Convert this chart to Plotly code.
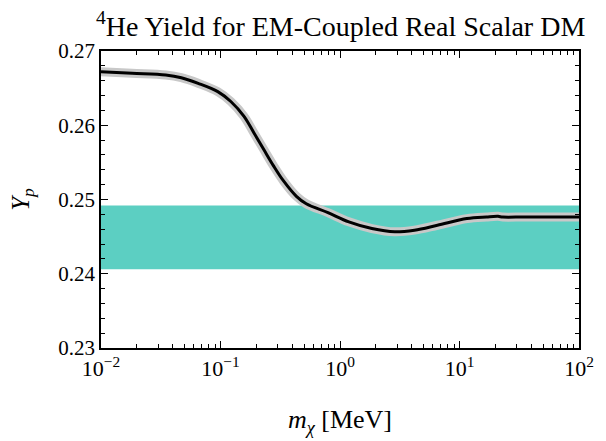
import plotly.graph_objects as go

# Data
mass_mev = [0.01, 0.0182, 0.0348, 0.047, 0.065, 0.0949, 0.122, 0.1573, 0.1901,
            0.2296, 0.2778, 0.3357, 0.4317, 0.522, 0.793, 1.186, 1.848,
            2.873, 4.198, 6.53, 11.53, 16.83, 21.0, 23.0, 35.9, 100.0]
yp = [0.2672, 0.26699, 0.26676, 0.2664, 0.26565, 0.26453, 0.2632, 0.2612, 0.25899,
      0.25676, 0.25453, 0.25253, 0.25043, 0.24943, 0.24823, 0.24699, 0.24609,
      0.24565, 0.24587, 0.24653, 0.24743, 0.24765, 0.24773, 0.24764, 0.24765, 0.24765]
obs_band = [0.2406, 0.2492]  # observed Yp band (low, high)

x_range = [0.01, 100.0]
y_range = [0.23, 0.27]
x_tickvals = [0.01, 0.1, 1, 10, 100]
x_ticktext = ["10<sup>−2</sup>", "10<sup>−1</sup>", "10<sup>0</sup>", "10<sup>1</sup>", "10<sup>2</sup>"]
y_tickvals = [0.23, 0.24, 0.25, 0.26, 0.27]
y_ticktext = ["0.23", "0.24", "0.25", "0.26", "0.27"]
x_minor_vals = [m * 10.0 ** e for e in range(-2, 2) for m in range(2, 10)]

FONT = "Liberation Serif"

fig = go.Figure()

# observed band
fig.add_trace(go.Scatter(
    x=[x_range[0], x_range[1], x_range[1], x_range[0], x_range[0]],
    y=[obs_band[0], obs_band[0], obs_band[1], obs_band[1], obs_band[0]],
    fill="toself", fillcolor="#5ccfc2", line=dict(width=0),
    mode="lines", hoverinfo="skip", showlegend=False))

# uncertainty (grey halo)
fig.add_trace(go.Scatter(x=mass_mev, y=yp, mode="lines",
                         line=dict(color="#c8c8c8", width=9, shape="spline", smoothing=1.0),
                         showlegend=False))
# central curve
fig.add_trace(go.Scatter(x=mass_mev, y=yp, mode="lines",
                         line=dict(color="black", width=3, shape="spline", smoothing=1.0),
                         showlegend=False))

fig.update_layout(
    width=606, height=441,
    margin=dict(l=101, r=19, t=51, b=90),
    plot_bgcolor="white", paper_bgcolor="white",
    font=dict(family=FONT, size=21, color="black"),
    annotations=[dict(
        text="<sup>4</sup>He Yield for EM-Coupled Real Scalar DM",
        xref="x domain", yref="y domain",
        x=0.5, xanchor="center",
        y=1 + (51 - 24) / 300, yanchor="middle",
        showarrow=False, font=dict(family=FONT, size=28, color="black"))],
)

fig.update_xaxes(
    type="log", range=[-2, 2],
    tickvals=x_tickvals, ticktext=x_ticktext,
    ticks="inside", ticklen=7, tickwidth=1.2, tickcolor="black",
    minor=dict(ticks="inside", ticklen=4, tickwidth=1, tickcolor="black",
               tickvals=x_minor_vals, showgrid=False),
    showline=True, linecolor="black", linewidth=1.5, mirror="ticks",
    showgrid=False, zeroline=False,
    title=dict(text="<i>m</i><sub><i>χ</i></sub> [MeV]", standoff=30,
               font=dict(family=FONT, size=26)),
    tickfont=dict(family=FONT, size=22),
)
fig.update_yaxes(
    range=y_range,
    tickvals=y_tickvals, ticktext=y_ticktext,
    ticks="inside", ticklen=7, tickwidth=1.2, tickcolor="black",
    minor=dict(ticks="inside", ticklen=4, tickwidth=1, tickcolor="black",
               dtick=0.002, showgrid=False),
    showline=True, linecolor="black", linewidth=1.5, mirror="ticks",
    showgrid=False, zeroline=False,
    title=dict(text="<i>Y</i><sub><i>p</i></sub>", standoff=22,
               font=dict(family=FONT, size=25)),
    tickfont=dict(family=FONT, size=21),
)

fig.write_html("out.html")
